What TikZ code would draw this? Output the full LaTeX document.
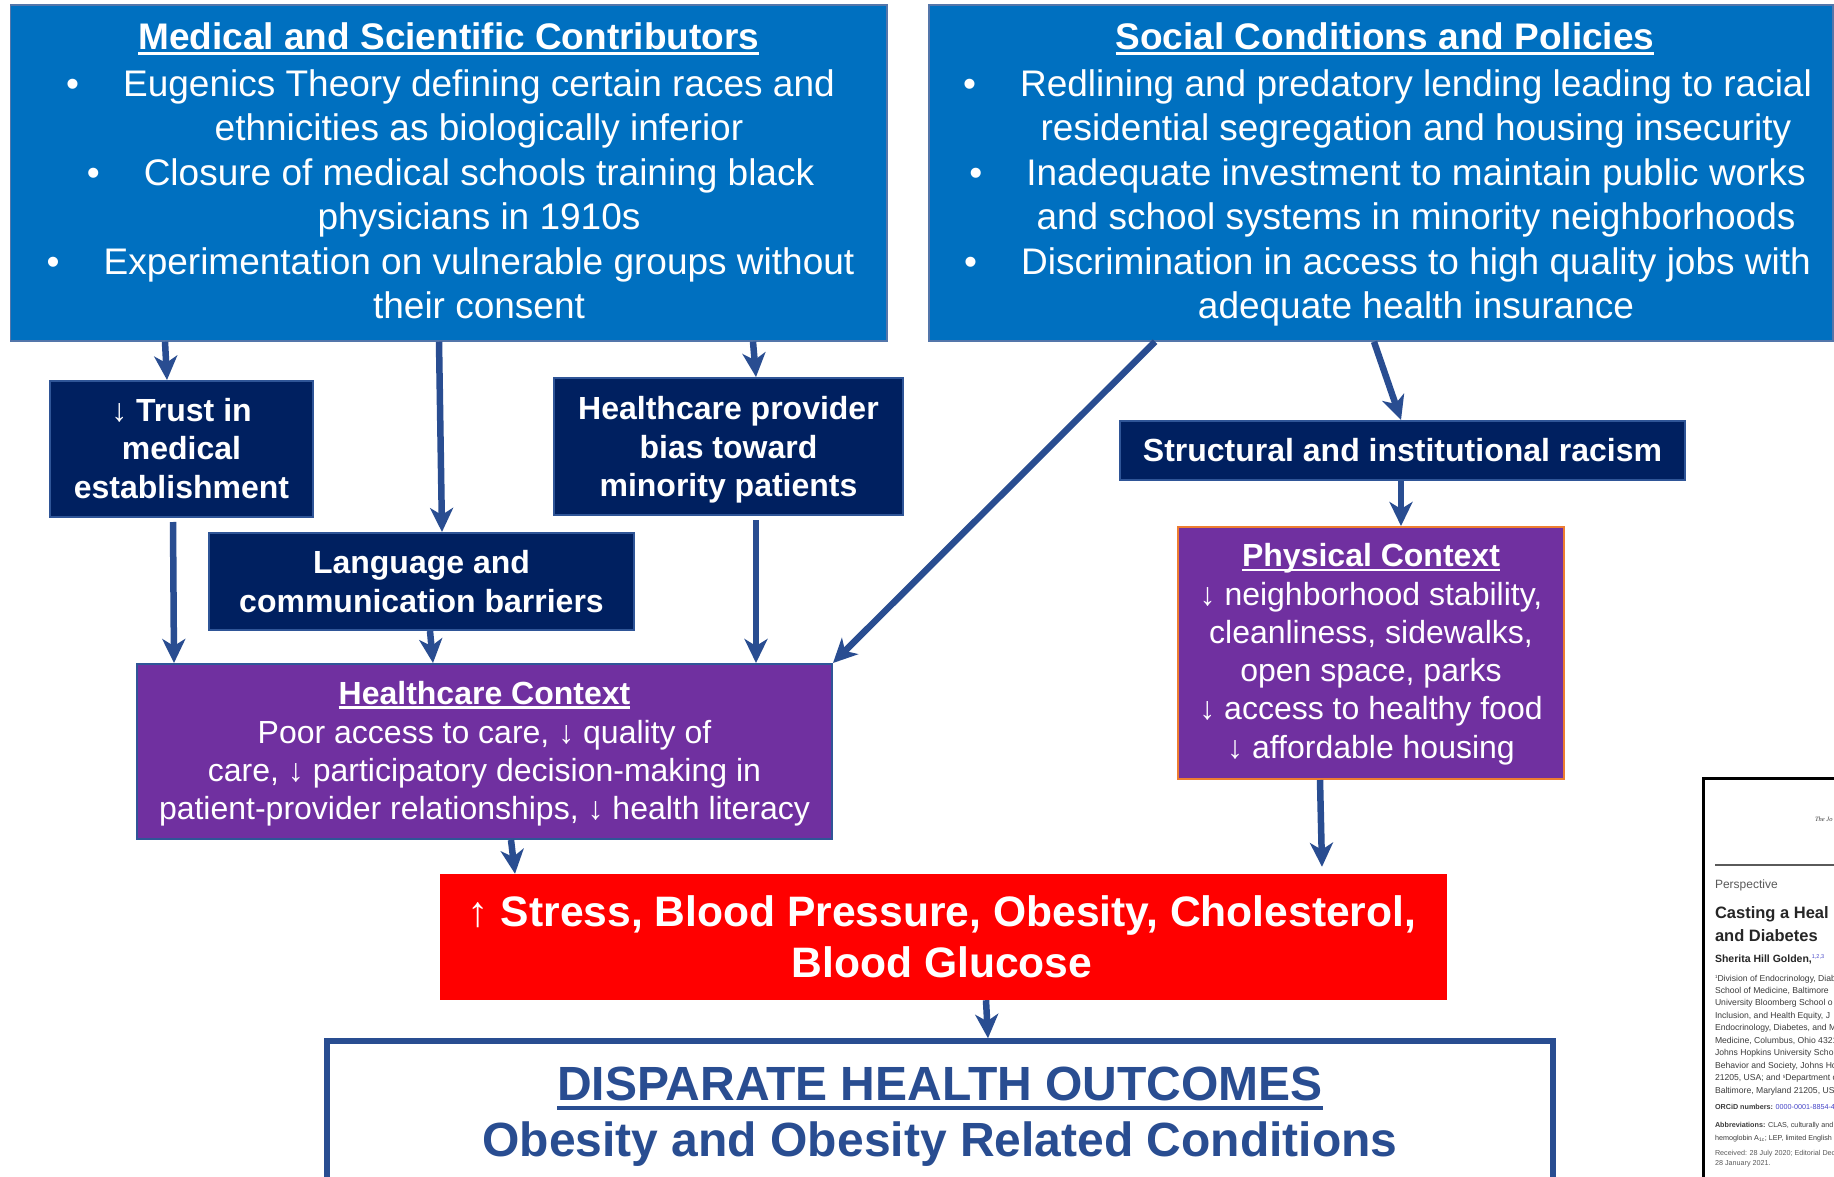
\documentclass[tikz,border=0pt]{standalone}
\usepackage{fontspec}
\setmainfont{Liberation Sans}
\newfontfamily\thumbserif{Liberation Serif}
\usetikzlibrary{arrows.meta}
\definecolor{medblue}{RGB}{0,112,192}
\definecolor{medborder}{RGB}{84,118,170}
\definecolor{navy}{RGB}{0,32,96}
\definecolor{navyborder}{RGB}{47,85,151}
\definecolor{purp}{RGB}{112,48,160}
\definecolor{orangeb}{RGB}{237,125,49}
\definecolor{arrowblue}{RGB}{41,77,145}
\definecolor{redfill}{RGB}{255,0,0}
\definecolor{thumbgray}{RGB}{90,90,90}
\definecolor{thumbtext}{RGB}{60,60,60}
\definecolor{thumbblue}{RGB}{70,70,200}
\newcommand\setfs[2]{\fontsize{#1}{#2}\selectfont}
\newcommand\topstrut{\rule{0pt}{1em}}
\newcommand\myunder[3]{\setbox0\hbox{#3}\rlap{\rule[-#1]{\wd0}{#2}}\box0}
\newcommand\blt{\llap{\textbullet\hspace{44pt}}}
\begin{document}
\begin{tikzpicture}[x=1pt,y=-1pt,
  box/.style={rectangle, inner sep=0pt, anchor=center},
  medbox/.style={box, fill=medblue, draw=medborder, line width=1.5pt},
  navybox/.style={box, fill=navy, draw=navyborder, line width=2pt},
  ctxbox/.style={box, fill=purp, draw=navyborder, line width=2pt},
  physbox/.style={box, fill=purp, draw=orangeb, line width=2pt},
  redbox/.style={box, fill=redfill},
  outbox/.style={box, fill=white, draw=arrowblue, line width=5.5pt},
  txt/.style={inner sep=0pt, outer sep=0pt, align=center, text=white, anchor=north},
  thumb/.style={inner sep=0pt, outer sep=0pt, anchor=base west, align=left, text=thumbtext},
  arr/.style={draw=arrowblue, line width=6.5pt, -{Stealth[length=24pt,width=23pt,inset=7pt]}},
]
\useasboundingbox (0,0) rectangle (1834,1177);
\clip (0,0) rectangle (1834,1177);
\fill[white] (0,0) rectangle (1834,1177);

% ---------- boxes ----------
\node[medbox, minimum width=876.5pt, minimum height=336pt] (med) at (448.75,173) {};
\node[medbox, minimum width=904pt, minimum height=336pt] (soc) at (1381,173) {};
\node[navybox, minimum width=263pt, minimum height=136pt] (trust) at (181.5,449) {};
\node[navybox, minimum width=349pt, minimum height=137pt] (prov) at (728.5,446.5) {};
\node[navybox, minimum width=425pt, minimum height=97pt] (lang) at (421.5,581.5) {};
\node[navybox, minimum width=565pt, minimum height=59pt] (struct) at (1402.5,450.5) {};
\node[physbox, minimum width=386pt, minimum height=252pt] (phys) at (1371,653) {};
\node[ctxbox, minimum width=695pt, minimum height=175pt] (hc) at (484.5,751.5) {};
\node[redbox, minimum width=1007pt, minimum height=126pt] (red) at (943.5,937) {};
\node[outbox, minimum width=1226pt, minimum height=160pt] (disp) at (940,1121) {};
\node[box, fill=white, draw=black, line width=2.5pt, minimum width=150pt, minimum height=420pt, anchor=north west] (paper) at (1702,777) {};

% ---------- texts ----------
\node[txt, font=\setfs{37}{44.5}\bfseries] (medhead) at (448.75,13)
  {\topstrut\myunder{5pt}{2.8pt}{Medical and Scientific Contributors}};
\node[txt, font=\setfs{37}{44.5}] (medbody) at (479,59)
  {\topstrut\blt Eugenics Theory defining certain races and\\
   ethnicities as biologically inferior\\
   \blt Closure of medical schools training black\\
   physicians in 1910s\\
   \blt Experimentation on vulnerable groups without\\
   their consent};

\node[txt, font=\setfs{37}{44.5}\bfseries] (sochead) at (1385,13)
  {\topstrut\myunder{5pt}{2.8pt}{Social Conditions and Policies}};
\node[txt, font=\setfs{37}{44.5}] (socbody) at (1416,59)
  {\topstrut\blt Redlining and predatory lending leading to racial\\
   residential segregation and housing insecurity\\
   \blt Inadequate investment to maintain public works\\
   and school systems in minority neighborhoods\\
   \blt Discrimination in access to high quality jobs with\\
   adequate health insurance};

\node[txt, font=\setfs{32}{38.6}\bfseries] (trusttxt) at (181.5,389)
  {\topstrut{\mdseries ↓} Trust in\\medical\\establishment};
\node[txt, font=\setfs{32}{38.6}\bfseries] (provtxt) at (728.5,387.5)
  {\topstrut Healthcare provider\\bias toward\\minority patients};
\node[txt, font=\setfs{32}{38.6}\bfseries] (langtxt) at (421.5,541.5)
  {\topstrut Language and\\communication barriers};
\node[txt, font=\setfs{32}{38.6}\bfseries] (structtxt) at (1402.5,429.5)
  {\topstrut Structural and institutional racism};

\node[txt, font=\setfs{32}{38.3}\bfseries] (physhead) at (1371,534.5)
  {\topstrut\myunder{4.5pt}{2.5pt}{Physical Context}};
\node[txt, font=\setfs{32}{38.3}] (physbody) at (1371,573)
  {\topstrut ↓ neighborhood stability,\\cleanliness, sidewalks,\\open space, parks\\↓ access to healthy food\\↓ affordable housing};

\node[txt, font=\setfs{32}{38.3}\bfseries] (hchead) at (484.5,672)
  {\topstrut\myunder{4.5pt}{2.5pt}{Healthcare Context}};
\node[txt, font=\setfs{32}{38.3}] (hcbody) at (484.5,711)
  {\topstrut Poor access to care, ↓ quality of\\care, ↓ participatory decision-making in\\patient-provider relationships, ↓ health literacy};

\node[txt, font=\setfs{42.6}{51}\bfseries] (redtxt) at (942,883.4)
  {\topstrut{\mdseries ↑} Stress, Blood Pressure, Obesity, Cholesterol,\\Blood Glucose};

\node[txt, text=arrowblue, font=\setfs{48}{56}\bfseries] (disphead) at (940,1052)
  {\topstrut\myunder{10pt}{4.5pt}{DISPARATE HEALTH OUTCOMES}};
\node[txt, text=arrowblue, font=\setfs{48}{56}\bfseries] (dispsub) at (940,1108)
  {\topstrut Obesity and Obesity Related Conditions};

% ---------- paper thumbnail ----------
\node[thumb, font=\thumbserif\itshape\setfs{6.5}{7}] (pj) at (1815,821.5) {The Jo};
\draw[thumbgray, line width=2pt] (1715,864.5) -- (1840,864.5);
\node[thumb, text=thumbgray, font=\setfs{12}{13}] (pp) at (1715,888.5) {Perspective};
\node[thumb, text=black!85, font=\setfs{16.5}{20}\bfseries] (pt1) at (1715,918.5) {Casting a Heal};
\node[thumb, text=black!85, font=\setfs{16.5}{20}\bfseries] (pt2) at (1715,941) {and Diabetes};
\node[thumb, text=black!85, font=\setfs{10.5}{12}\bfseries] (pa) at (1715,962.3)
  {Sherita Hill Golden,{\color{thumbblue}\raisebox{4pt}{\setfs{5.5}{6}\mdseries 1,2,3}}};
\node[thumb, anchor=north west, font=\setfs{8.6}{12.45}] (paff) at (1715,972.4)
  {\topstrut\raisebox{2.5pt}{\setfs{4.5}{5}1}Division of Endocrinology, Diab\\
   School of Medicine, Baltimore\\
   University Bloomberg School o\\
   Inclusion, and Health Equity, J\\
   Endocrinology, Diabetes, and M\\
   Medicine, Columbus, Ohio 4321\\
   Johns Hopkins University Scho\\
   Behavior and Society, Johns Ho\\
   21205, USA; and \raisebox{2.5pt}{\setfs{4.5}{5}5}Department o\\
   Baltimore, Maryland 21205, USA};
\node[thumb, font=\setfs{7.2}{8}] (porc) at (1715,1109)
  {\textbf{ORCiD numbers:} {\color{thumbblue}0000-0001-8854-4026}};
\node[thumb, font=\setfs{7.2}{13}, anchor=north west] (pabb) at (1715,1119.8)
  {\topstrut\textbf{Abbreviations:} CLAS, culturally and li\\hemoglobin A\textsubscript{1c}; LEP, limited English p};
\node[thumb, text=thumbgray, font=\setfs{7.2}{10.5}, anchor=north west] (prec) at (1715,1147.8)
  {\topstrut Received: 28 July 2020; Editorial Deci\\28 January 2021.};

% ---------- connectors ----------
\draw[arr] ([xshift=-283.75pt]med.south) -- ([xshift=-14.5pt]trust.north);
\draw[arr] ([xshift=-9.75pt]med.south) -- ([xshift=20.5pt]lang.north);
\draw[arr] ([xshift=304.25pt]med.south) -- ([xshift=27.5pt]prov.north);
\draw[arr] ([xshift=-226pt]soc.south) -- (hc.north east);
\draw[arr] ([xshift=-7pt]soc.south) -- ([xshift=-1.5pt]struct.north);
\draw[arr] ([xshift=-1.5pt]struct.south) -- ([xshift=30pt]phys.north);
\draw[arr] ([xshift=-8.5pt,yshift=-4pt]trust.south) -- ([xshift=-310.5pt]hc.north);
\draw[arr] ([xshift=8.5pt]lang.south) -- ([xshift=-51.5pt]hc.north);
\draw[arr] ([xshift=27.5pt,yshift=-4pt]prov.south) -- ([xshift=271.5pt]hc.north);
\draw[arr] ([xshift=26.5pt]hc.south) -- ([xshift=-428.5pt]red.north);
\draw[arr] ([xshift=-51pt]phys.south) -- ([xshift=378.5pt,yshift=7pt]red.north);
\draw[arr] ([xshift=42.5pt]red.south) -- ([xshift=48pt]disp.north);
\end{tikzpicture}
\end{document}
